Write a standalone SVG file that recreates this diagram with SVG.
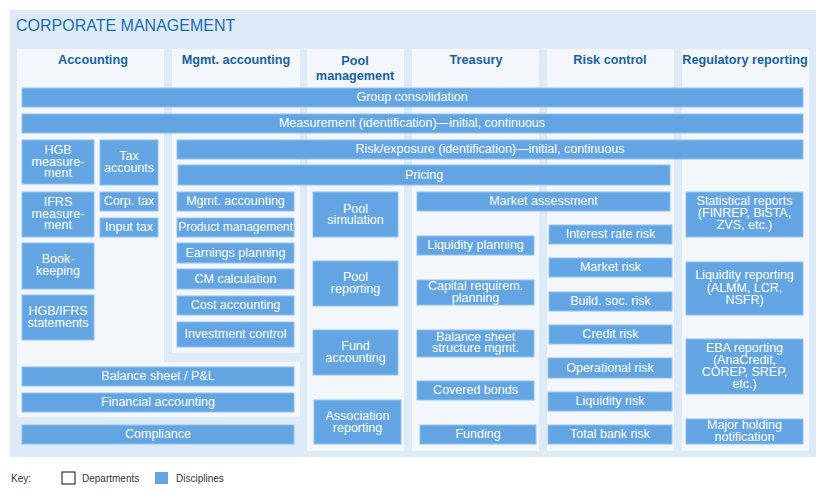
<svg xmlns="http://www.w3.org/2000/svg" width="825" height="497" viewBox="0 0 825 497">
<style>
.bg{fill:#ddeaf8}
.dept{fill:#f3f7fc}
.disc{fill:#63a5e2;stroke:#93c2ee;stroke-width:1}
.t{font-family:"Liberation Sans",Arial,sans-serif;font-size:12.5px;fill:#ffffff;text-anchor:middle}
.s{font-size:12px}
.h{font-family:"Liberation Sans",Arial,sans-serif;font-size:12.7px;font-weight:bold;fill:#1762a3;text-anchor:middle}
.title{font-family:"Liberation Sans",Arial,sans-serif;font-size:16px;fill:#1b6cae}
.k{font-family:"Liberation Sans",Arial,sans-serif;font-size:10px;fill:#333333}
</style>
<rect x="0" y="0" width="825" height="497" fill="#ffffff"/>
<rect class="bg" x="10" y="10" width="806" height="447"/>
<text class="title" x="16" y="31">CORPORATE MANAGEMENT</text>

<g id="departments">
  <g id="dept-accounting">
    <path class="dept" d="M17,49 H164 V362 H300 V417 H17 Z"/>
    <text class="h" x="93" y="64">Accounting</text>
  </g>
  <g id="dept-mgmt-accounting">
    <rect class="dept" x="172" y="49" width="128" height="304"/>
    <text class="h" x="236" y="64">Mgmt. accounting</text>
  </g>
  <g id="dept-pool">
    <rect class="dept" x="307" y="49" width="97" height="402"/>
    <text class="h" x="355" y="65">Pool</text>
    <text class="h" x="355" y="80">management</text>
  </g>
  <g id="dept-treasury">
    <rect class="dept" x="412" y="49" width="127" height="402"/>
    <text class="h" x="476" y="64">Treasury</text>
  </g>
  <g id="dept-risk">
    <rect class="dept" x="547" y="49" width="127" height="402"/>
    <text class="h" x="610" y="64">Risk control</text>
  </g>
  <g id="dept-regulatory">
    <rect class="dept" x="682" y="49" width="127" height="402"/>
    <text class="h" x="745" y="64">Regulatory reporting</text>
  </g>
</g>

<g id="disciplines">
  <g id="group-consolidation"><rect class="disc" x="22" y="88" width="781" height="19"/><text class="t" x="412" y="101">Group consolidation</text></g>
  <g id="measurement"><rect class="disc" x="22" y="114" width="781" height="19"/><text class="t" x="412" y="127">Measurement (identification)—initial, continuous</text></g>
  <g id="risk-exposure"><rect class="disc" x="177" y="140" width="626" height="19"/><text class="t" x="490" y="153">Risk/exposure (identification)—initial, continuous</text></g>
  <g id="pricing"><rect class="disc" x="178" y="165" width="492" height="20"/><text class="t" x="424" y="179">Pricing</text></g>

  <g id="hgb-measurement"><rect class="disc" x="22" y="140" width="72" height="44"/><text class="t" x="58" y="154">HGB</text><text class="t" x="58" y="165.5">measure-</text><text class="t" x="58" y="177">ment</text></g>
  <g id="tax-accounts"><rect class="disc" x="100" y="140" width="58" height="45"/><text class="t" x="129" y="160">Tax</text><text class="t" x="129" y="172">accounts</text></g>
  <g id="ifrs-measurement"><rect class="disc" x="22" y="192" width="72" height="45"/><text class="t" x="58" y="206">IFRS</text><text class="t" x="58" y="217.5">measure-</text><text class="t" x="58" y="229">ment</text></g>
  <g id="corp-tax"><rect class="disc" x="100" y="192" width="58" height="19"/><text class="t" x="129" y="205">Corp. tax</text></g>
  <g id="input-tax"><rect class="disc" x="100" y="218" width="58" height="19"/><text class="t" x="129" y="231">Input tax</text></g>
  <g id="bookkeeping"><rect class="disc" x="22" y="243" width="72" height="46"/><text class="t" x="58" y="263">Book-</text><text class="t" x="58" y="275">keeping</text></g>
  <g id="hgb-ifrs-statements"><rect class="disc" x="22" y="295" width="72" height="45"/><text class="t" x="58" y="315">HGB/IFRS</text><text class="t" x="58" y="327">statements</text></g>

  <g id="mgmt-accounting"><rect class="disc" x="177" y="192" width="117" height="19"/><text class="t" x="235.5" y="205">Mgmt. accounting</text></g>
  <g id="product-management"><rect class="disc" x="177" y="218" width="117" height="19"/><text class="t s" x="235.5" y="231">Product management</text></g>
  <g id="earnings-planning"><rect class="disc" x="177" y="243" width="117" height="20"/><text class="t" x="235.5" y="256.5">Earnings planning</text></g>
  <g id="cm-calculation"><rect class="disc" x="177" y="269" width="117" height="20"/><text class="t" x="235.5" y="282.5">CM calculation</text></g>
  <g id="cost-accounting"><rect class="disc" x="177" y="296" width="117" height="19"/><text class="t" x="235.5" y="309">Cost accounting</text></g>
  <g id="investment-control"><rect class="disc" x="177" y="322" width="117" height="25"/><text class="t" x="235.5" y="337.5">Investment control</text></g>

  <g id="balance-sheet-pl"><rect class="disc" x="22" y="367" width="272" height="19"/><text class="t" x="158" y="380">Balance sheet / P&amp;L</text></g>
  <g id="financial-accounting"><rect class="disc" x="22" y="393" width="272" height="19"/><text class="t" x="158" y="406">Financial accounting</text></g>
  <g id="compliance"><rect class="disc" x="22" y="425" width="272" height="19"/><text class="t" x="158" y="438">Compliance</text></g>

  <g id="pool-simulation"><rect class="disc" x="313" y="192" width="85" height="45"/><text class="t" x="355.5" y="212.5">Pool</text><text class="t" x="355.5" y="224">simulation</text></g>
  <g id="pool-reporting"><rect class="disc" x="313" y="261" width="85" height="45"/><text class="t" x="355.5" y="281">Pool</text><text class="t" x="355.5" y="293">reporting</text></g>
  <g id="fund-accounting"><rect class="disc" x="313" y="330" width="85" height="45"/><text class="t" x="355.5" y="350">Fund</text><text class="t" x="355.5" y="362">accounting</text></g>
  <g id="association-reporting"><rect class="disc" x="314" y="400" width="87" height="44"/><text class="t" x="357.5" y="420">Association</text><text class="t" x="357.5" y="431.5">reporting</text></g>

  <g id="market-assessment"><rect class="disc" x="417" y="192" width="253" height="19"/><text class="t" x="543.5" y="205">Market assessment</text></g>
  <g id="liquidity-planning"><rect class="disc" x="417" y="236" width="117" height="19"/><text class="t" x="475.5" y="249">Liquidity planning</text></g>
  <g id="capital-planning"><rect class="disc" x="417" y="280" width="117" height="25"/><text class="t" x="475.5" y="290">Capital requirem.</text><text class="t" x="475.5" y="301.5">planning</text></g>
  <g id="balance-structure"><rect class="disc" x="417" y="330" width="117" height="27"/><text class="t" x="475.5" y="340.5">Balance sheet</text><text class="t" x="475.5" y="352">structure mgmt.</text></g>
  <g id="covered-bonds"><rect class="disc" x="417" y="381" width="117" height="19"/><text class="t" x="475.5" y="394">Covered bonds</text></g>
  <g id="funding"><rect class="disc" x="420" y="425" width="116" height="19"/><text class="t" x="478" y="438">Funding</text></g>

  <g id="interest-rate-risk"><rect class="disc" x="549" y="225" width="123" height="19"/><text class="t" x="610.5" y="238">Interest rate risk</text></g>
  <g id="market-risk"><rect class="disc" x="549" y="258" width="123" height="19"/><text class="t" x="610.5" y="271">Market risk</text></g>
  <g id="build-soc-risk"><rect class="disc" x="549" y="292" width="123" height="19"/><text class="t" x="610.5" y="305">Build. soc. risk</text></g>
  <g id="credit-risk"><rect class="disc" x="549" y="325" width="123" height="19"/><text class="t" x="610.5" y="338">Credit risk</text></g>
  <g id="operational-risk"><rect class="disc" x="548" y="358" width="124" height="20"/><text class="t" x="610" y="371.5">Operational risk</text></g>
  <g id="liquidity-risk"><rect class="disc" x="548" y="392" width="124" height="19"/><text class="t" x="610" y="405">Liquidity risk</text></g>
  <g id="total-bank-risk"><rect class="disc" x="548" y="425" width="124" height="19"/><text class="t" x="610" y="438">Total bank risk</text></g>

  <g id="statistical-reports"><rect class="disc" x="686" y="192" width="117" height="45"/><text class="t" x="744.5" y="205">Statistical reports</text><text class="t" x="744.5" y="217">(FINREP, BiSTA,</text><text class="t" x="744.5" y="229">ZVS, etc.)</text></g>
  <g id="liquidity-reporting"><rect class="disc" x="686" y="262" width="117" height="53"/><text class="t" x="744.5" y="279">Liquidity reporting</text><text class="t" x="744.5" y="291.5">(ALMM, LCR,</text><text class="t" x="744.5" y="304">NSFR)</text></g>
  <g id="eba-reporting"><rect class="disc" x="686" y="339" width="117" height="55"/><text class="t" x="744.5" y="352">EBA reporting</text><text class="t" x="744.5" y="364">(AnaCredit,</text><text class="t" x="744.5" y="376">COREP, SREP,</text><text class="t" x="744.5" y="388">etc.)</text></g>
  <g id="major-holding"><rect class="disc" x="686" y="419" width="117" height="25"/><text class="t" x="744.5" y="429">Major holding</text><text class="t" x="744.5" y="441">notification</text></g>
</g>

<g id="connectors"></g>

<g id="key">
  <text class="k" x="11" y="482">Key:</text>
  <rect x="62" y="472" width="13" height="12" fill="#ffffff" stroke="#111111" stroke-width="1"/>
  <text class="k" x="82" y="482">Departments</text>
  <rect x="155" y="472" width="13" height="12" fill="#63a5e2"/>
  <text class="k" x="176" y="482">Disciplines</text>
</g>
</svg>
